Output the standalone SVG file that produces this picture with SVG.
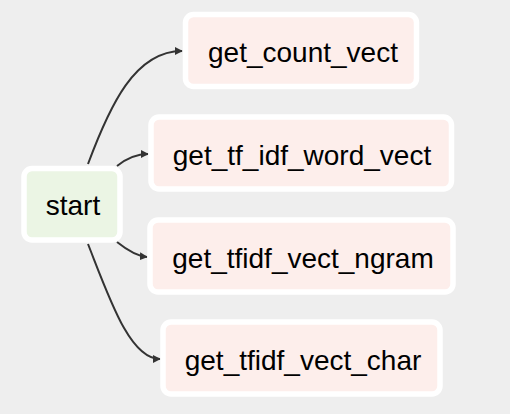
<svg xmlns="http://www.w3.org/2000/svg" width="510" height="414" viewBox="0 0 510 414">
<style>
.bg{fill:#eeeeee}
.node rect{stroke:#ffffff;stroke-width:5.5}
.task rect{fill:#fdeeeb}
.st rect{fill:#ebf5e4}
.node text{font-family:"Liberation Sans",Arial,sans-serif;font-size:28px;fill:#000;text-anchor:middle}
.edge{fill:none;stroke:#333333;stroke-width:2;marker-end:url(#arr)}
</style>
<defs>
<marker id="arr" viewBox="0 0 10 10" refX="9" refY="5" markerWidth="4" markerHeight="4" orient="auto" markerUnits="strokeWidth">
<path d="M0,0 L10,5 L0,10 z" fill="#333333"/>
</marker>
</defs>
<rect class="bg" x="0" y="0" width="510" height="414"/>
<g id="edges">
<path class="edge" d="M88,164 C110,105 135,51 182,51"/>
<path class="edge" d="M117,166 C127,158 136,154 148,154"/>
<path class="edge" d="M117,242 C127,250 136,256 147,257"/>
<path class="edge" d="M88,244 C110,300 130,359 160,359"/>
</g>
<g id="start" class="node st">
<rect x="24" y="168.5" width="96" height="71.5" rx="8"/>
<text x="73" y="215">start</text>
</g>
<g id="get_count_vect" class="node task">
<rect x="185.5" y="14.5" width="231" height="72" rx="8"/>
<text x="303" y="62">get_count_vect</text>
</g>
<g id="get_tf_idf_word_vect" class="node task">
<rect x="151" y="117" width="300.5" height="72" rx="8"/>
<text x="302" y="165">get_tf_idf_word_vect</text>
</g>
<g id="get_tfidf_vect_ngram" class="node task">
<rect x="150" y="220" width="303" height="72" rx="8"/>
<text x="303" y="268">get_tfidf_vect_ngram</text>
</g>
<g id="get_tfidf_vect_char" class="node task">
<rect x="163" y="322" width="277" height="72" rx="8"/>
<text x="303" y="370">get_tfidf_vect_char</text>
</g>
</svg>
